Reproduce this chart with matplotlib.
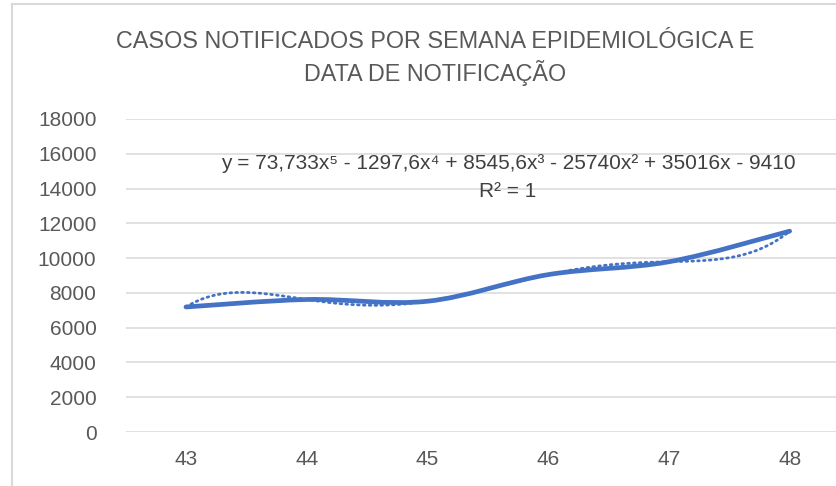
import matplotlib
matplotlib.use("Agg")
import matplotlib.pyplot as plt
import numpy as np
from matplotlib.lines import Line2D
from matplotlib.patches import PathPatch
from matplotlib.path import Path

# semana epidemiológica x casos notificados
weeks = ["43", "44", "45", "46", "47", "48"]
cases = [7190, 7620, 7520, 9050, 9790, 11550]
y_ticks = [0, 2000, 4000, 6000, 8000, 10000, 12000, 14000, 16000, 18000]

equation = "y = 73,733x\u2075 - 1297,6x\u2074 + 8545,6x\u00b3 - 25740x\u00b2 + 35016x - 9410"
r2_text = "R\u00b2 = 1"
title_1 = "CASOS NOTIFICADOS POR SEMANA EPIDEMIOLÓGICA E"
title_2 = "DATA DE NOTIFICAÇÃO"

BLUE = "#4472C4"
GREY_TXT = "#595959"
GRID = "#D9D9D9"
FONT = ["Liberation Sans Narrow", "Liberation Sans", "DejaVu Sans"]

plt.rcParams["font.family"] = FONT


def smooth_path(xs, ys):
    # excel-like smoothing: cubic bezier with catmull-rom tangents
    pts = np.column_stack([xs, ys]).astype(float)
    n = len(pts)
    verts = [pts[0]]
    codes = [Path.MOVETO]
    for i in range(n - 1):
        p0 = pts[max(i - 1, 0)]
        p1 = pts[i]
        p2 = pts[i + 1]
        p3 = pts[min(i + 2, n - 1)]
        c1 = p1 + (p2 - p0) / 6.0
        c2 = p2 - (p3 - p1) / 6.0
        verts += [c1, c2, p2]
        codes += [Path.CURVE4] * 3
    return Path(verts, codes)


def fy(py):
    # pixel row (from top) -> figure fraction
    return 1 - py / 486


fig = plt.figure(figsize=(8.37, 4.86), dpi=100)
x0 = 125.6 / 837
x1 = 850 / 837
ax = fig.add_axes([x0, fy(432), x1 - x0, (432 - 119) / 486])

x = np.arange(len(weeks))
ax.set_xlim(-0.5, len(weeks) - 0.5)
ax.set_ylim(0, 18000)
ax.set_yticks(y_ticks)
ax.set_xticks(x)
ax.set_xticklabels(weeks)
ax.grid(axis="y", color=GRID, lw=1.1)
ax.set_axisbelow(True)
for s in ax.spines.values():
    s.set_visible(False)
ax.tick_params(length=0, labelsize=15, labelcolor=GREY_TXT)
ax.tick_params(axis="y", pad=21)
ax.tick_params(axis="x", pad=13)

# polynomial trendline (order 5) through the points
coef = np.polyfit(x + 1, cases, 5)
xf = np.linspace(0, len(weeks) - 1, 300)
ax.plot(xf, np.polyval(coef, xf + 1), color=BLUE, lw=2.0, ls=(0, (0.6, 1.5)),
        dash_capstyle="round", zorder=3)

ax.add_patch(PathPatch(smooth_path(x, cases), facecolor="none", edgecolor=BLUE,
                       lw=3.4, capstyle="round", zorder=4))

fig.text(508 / 837, fy(163), equation, ha="center", va="center",
         fontsize=15, color="#404040")
fig.text(508 / 837, fy(191), r2_text, ha="center", va="center",
         fontsize=15, color="#404040")

fig.text(435 / 837, fy(42), title_1, ha="center", va="center", fontsize=16.8, color=GREY_TXT)
fig.text(435 / 837, fy(73), title_2, ha="center", va="center", fontsize=16.8, color=GREY_TXT)

# chart frame (top and left edges visible)
fig.add_artist(Line2D([12 / 837, 1], [fy(4), fy(4)], transform=fig.transFigure,
                      color=GRID, lw=1.5))
fig.add_artist(Line2D([12 / 837, 12 / 837], [0, fy(4)], transform=fig.transFigure,
                      color=GRID, lw=1.5))

fig.savefig("out.png", dpi=100)
